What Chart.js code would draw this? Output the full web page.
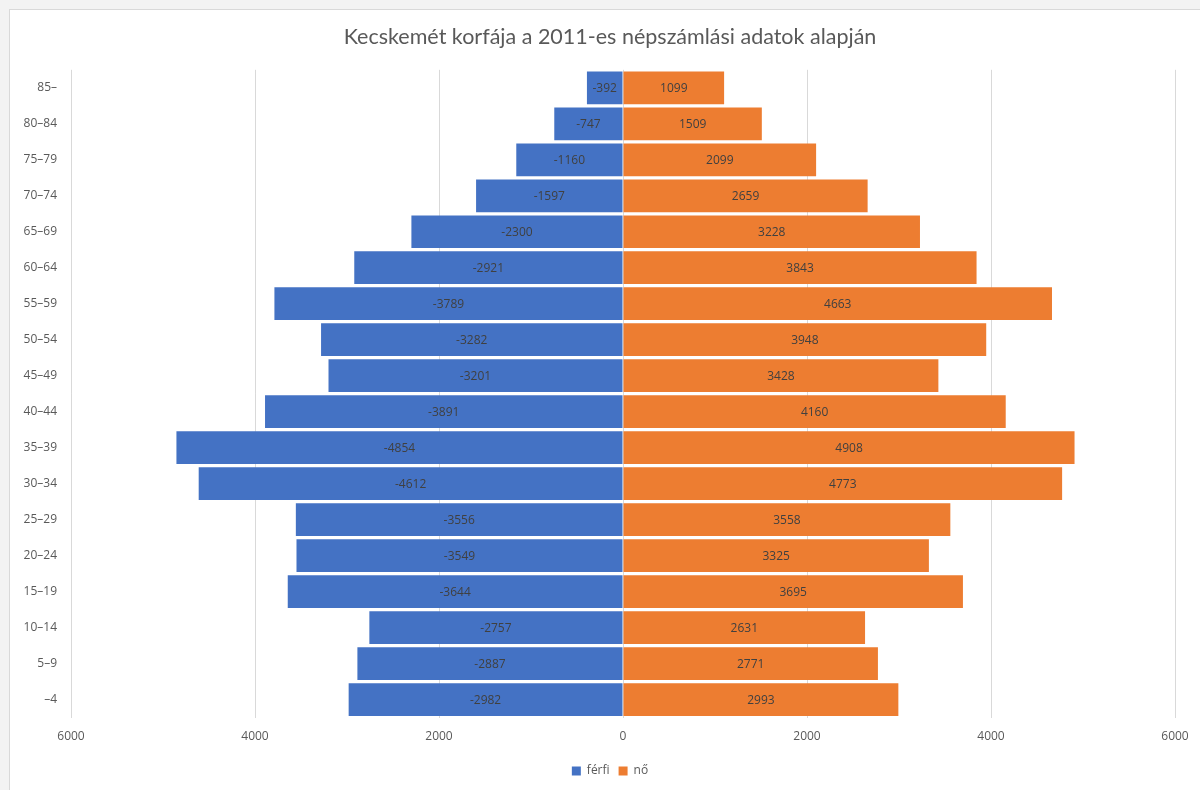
<!DOCTYPE html>
<html>
<head>
<meta charset="utf-8">
<script src="https://cdn.jsdelivr.net/npm/chart.js@4.4.1/dist/chart.umd.min.js"></script>
<style>
  html, body { margin: 0; padding: 0; background: #f3f3f3; overflow: hidden; }
  #wrap {
    position: absolute; left: 9px; top: 9px; width: 1200px; height: 780px;
    background: #fff; border-top: 1px solid #d9d9d9; border-left: 1px solid #d9d9d9;
  }
</style>
</head>
<body>
<div id="wrap"><canvas id="pyramid" width="1200" height="780"></canvas></div>
<script>
// Korcsoportok (felülről lefelé)
const ageGroups = ['85–', '80–84', '75–79', '70–74', '65–69', '60–64', '55–59', '50–54', '45–49',
                   '40–44', '35–39', '30–34', '25–29', '20–24', '15–19', '10–14', '5–9', '–4'];
const ferfi = [-392, -747, -1160, -1597, -2300, -2921, -3789, -3282, -3201,
               -3891, -4854, -4612, -3556, -3549, -3644, -2757, -2887, -2982];
const no = [1099, 1509, 2099, 2659, 3228, 3843, 4663, 3948, 3428,
            4160, 4908, 4773, 3558, 3325, 3695, 2631, 2771, 2993];
const xTicks = [-6000, -4000, -2000, 0, 2000, 4000, 6000];

const font = "'Open Sans', 'Noto Sans', sans-serif";

// Adatfeliratok a sávok közepére
const barLabels = {
    id: 'barLabels',
    afterDatasetsDraw(chart) {
        const ctx = chart.ctx;
        ctx.save();
        ctx.font = '12px ' + font;
        ctx.fillStyle = '#404040';
        ctx.textAlign = 'center';
        ctx.textBaseline = 'middle';
        chart.data.datasets.forEach((ds, i) => {
            chart.getDatasetMeta(i).data.forEach((bar, j) => {
                ctx.fillText(String(ds.data[j]), (bar.x + bar.base) / 2, bar.y + 1);
            });
        });
        ctx.restore();
    }
};

const ctx = document.getElementById('pyramid').getContext('2d');
const chart = new Chart(ctx, {
    type: 'bar',
    data: {
        labels: ageGroups,
        datasets: [
            { label: 'férfi', data: ferfi, backgroundColor: '#4472C4', barPercentage: 0.91, categoryPercentage: 1 },
            { label: 'nő', data: no, backgroundColor: '#ED7D31', barPercentage: 0.91, categoryPercentage: 1 }
        ]
    },
    options: {
        indexAxis: 'y',
        responsive: false,
        animation: false,
        layout: { padding: { left: 0, right: 0, top: 0, bottom: 3 } },
        plugins: {
            title: {
                display: true,
                text: 'Kecskemét korfája a 2011-es népszámlási adatok alapján',
                color: '#595959',
                font: { family: 'Lato', size: 21.5, weight: 'normal' },
                padding: { top: 14, bottom: 20 }
            },
            legend: {
                position: 'bottom',
                labels: {
                    color: '#595959',
                    font: { family: font, size: 12 },
                    boxWidth: 9, boxHeight: 9, padding: 9
                }
            },
            tooltip: { enabled: false }
        },
        scales: {
            x: {
                stacked: true,
                min: -6000, max: 6000,
                afterBuildTicks: axis => { axis.ticks = xTicks.map(v => ({ value: v })); },
                ticks: {
                    color: '#595959',
                    font: { family: font, size: 12 },
                    padding: 12,
                    callback: v => Math.abs(v)
                },
                grid: { color: '#d9d9d9', drawTicks: false },
                border: { display: false }
            },
            y: {
                stacked: true,
                afterFit: axis => { axis.width = 61; },
                ticks: {
                    color: '#595959',
                    font: { family: font, size: 12 },
                    padding: 14
                },
                grid: { display: false, drawTicks: false },
                border: { display: false }
            },
            // üres jobb oldali sáv, hogy a cím az egész lapra legyen középre igazítva
            yRight: {
                type: 'linear',
                position: 'right',
                afterFit: axis => { axis.width = 35; },
                ticks: { display: false },
                grid: { display: false, drawTicks: false },
                border: { display: false }
            }
        }
    },
    plugins: [barLabels]
});
</script>
</body>
</html>
